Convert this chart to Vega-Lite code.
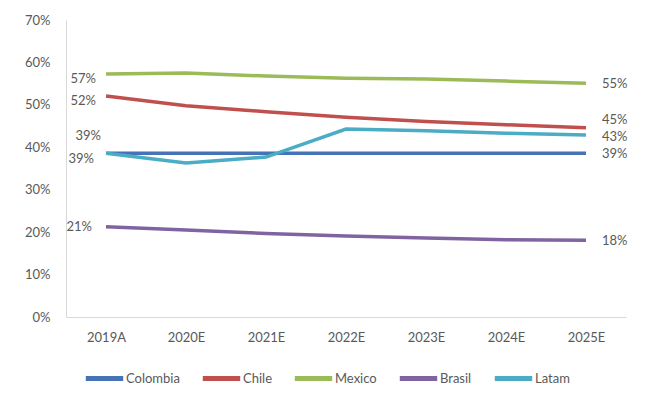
{
  "$schema": "https://vega.github.io/schema/vega-lite/v6.json",
  "width": 560,
  "height": 297,
  "autosize": {"type": "none"},
  "padding": {"left": 66, "top": 20, "right": 20, "bottom": 81},
  "background": "white",
  "config": {
    "font": "Lato",
    "view": {"stroke": null},
    "axis": {
      "grid": false,
      "ticks": false,
      "domainColor": "#d9d9d9",
      "domainWidth": 1,
      "labelColor": "#595959",
      "labelFontSize": 13,
      "title": null
    },
    "text": {"font": "Lato", "fontSize": 13, "color": "#595959", "baseline": "middle"}
  },
  "data": {
    "values": [
      {"series": "Colombia", "year": "2019A", "value": 0.386},
      {"series": "Colombia", "year": "2020E", "value": 0.386},
      {"series": "Colombia", "year": "2021E", "value": 0.386},
      {"series": "Colombia", "year": "2022E", "value": 0.386},
      {"series": "Colombia", "year": "2023E", "value": 0.386},
      {"series": "Colombia", "year": "2024E", "value": 0.386},
      {"series": "Colombia", "year": "2025E", "value": 0.386},
      {"series": "Chile", "year": "2019A", "value": 0.521},
      {"series": "Chile", "year": "2020E", "value": 0.498},
      {"series": "Chile", "year": "2021E", "value": 0.484},
      {"series": "Chile", "year": "2022E", "value": 0.471},
      {"series": "Chile", "year": "2023E", "value": 0.461},
      {"series": "Chile", "year": "2024E", "value": 0.453},
      {"series": "Chile", "year": "2025E", "value": 0.446},
      {"series": "Mexico", "year": "2019A", "value": 0.573},
      {"series": "Mexico", "year": "2020E", "value": 0.575},
      {"series": "Mexico", "year": "2021E", "value": 0.568},
      {"series": "Mexico", "year": "2022E", "value": 0.563},
      {"series": "Mexico", "year": "2023E", "value": 0.561},
      {"series": "Mexico", "year": "2024E", "value": 0.556},
      {"series": "Mexico", "year": "2025E", "value": 0.551},
      {"series": "Brasil", "year": "2019A", "value": 0.213},
      {"series": "Brasil", "year": "2020E", "value": 0.205},
      {"series": "Brasil", "year": "2021E", "value": 0.197},
      {"series": "Brasil", "year": "2022E", "value": 0.191},
      {"series": "Brasil", "year": "2023E", "value": 0.186},
      {"series": "Brasil", "year": "2024E", "value": 0.182},
      {"series": "Brasil", "year": "2025E", "value": 0.181},
      {"series": "Latam", "year": "2019A", "value": 0.386},
      {"series": "Latam", "year": "2020E", "value": 0.363},
      {"series": "Latam", "year": "2021E", "value": 0.377},
      {"series": "Latam", "year": "2022E", "value": 0.443},
      {"series": "Latam", "year": "2023E", "value": 0.439},
      {"series": "Latam", "year": "2024E", "value": 0.433},
      {"series": "Latam", "year": "2025E", "value": 0.429}
    ]
  },
  "encoding": {
    "x": {
      "field": "year",
      "type": "ordinal",
      "sort": null,
      "axis": {"labelAngle": 0, "labelPadding": 14}
    },
    "y": {
      "field": "value",
      "type": "quantitative",
      "scale": {"domain": [0, 0.7], "nice": false},
      "axis": {"format": ".0%", "values": [0, 0.1, 0.2, 0.3, 0.4, 0.5, 0.6, 0.7], "labelPadding": 16}
    }
  },
  "layer": [
    {
      "mark": {"type": "line", "strokeWidth": 3.5},
      "encoding": {
        "color": {
          "field": "series",
          "type": "nominal",
          "scale": {
            "domain": ["Colombia", "Chile", "Mexico", "Brasil", "Latam"],
            "range": ["#4573B5", "#C0504D", "#9BBB59", "#8064A2", "#4BACC6"]
          },
          "legend": {
            "title": null,
            "orient": "none",
            "direction": "horizontal",
            "legendX": 17,
            "legendY": 337,
            "padding": 0,
            "gridAlign": "none",
            "symbolType": "stroke",
            "symbolSize": 1400,
            "symbolStrokeWidth": 5,
            "labelFontSize": 13,
            "labelColor": "#595959",
            "labelOffset": 0,
            "columnPadding": 12
          }
        }
      }
    },
    {
      "transform": [{"filter": "datum.year == '2019A' && (datum.series == 'Mexico' || datum.series == 'Chile')"}],
      "mark": {"type": "text", "align": "right", "dx": -10, "dy": 5},
      "encoding": {"text": {"field": "value", "type": "quantitative", "format": ".0%"}}
    },
    {
      "transform": [{"filter": "datum.year == '2019A' && datum.series == 'Brasil'"}],
      "mark": {"type": "text", "align": "right", "dx": -14, "dy": 0},
      "encoding": {"text": {"field": "value", "type": "quantitative", "format": ".0%"}}
    },
    {
      "transform": [{"filter": "datum.year == '2019A' && datum.series == 'Latam'"}],
      "mark": {"type": "text", "align": "right", "dx": -5, "dy": -17},
      "encoding": {"text": {"field": "value", "type": "quantitative", "format": ".0%"}}
    },
    {
      "transform": [{"filter": "datum.year == '2019A' && datum.series == 'Colombia'"}],
      "mark": {"type": "text", "align": "right", "dx": -12, "dy": 6},
      "encoding": {"text": {"field": "value", "type": "quantitative", "format": ".0%"}}
    },
    {
      "transform": [{"filter": "datum.year == '2025E' && (datum.series == 'Mexico' || datum.series == 'Colombia' || datum.series == 'Brasil')"}],
      "mark": {"type": "text", "align": "left", "dx": 16, "dy": 1},
      "encoding": {"text": {"field": "value", "type": "quantitative", "format": ".0%"}}
    },
    {
      "transform": [{"filter": "datum.year == '2025E' && datum.series == 'Chile'"}],
      "mark": {"type": "text", "align": "left", "dx": 16, "dy": -8},
      "encoding": {"text": {"field": "value", "type": "quantitative", "format": ".0%"}}
    },
    {
      "transform": [{"filter": "datum.year == '2025E' && datum.series == 'Latam'"}],
      "mark": {"type": "text", "align": "left", "dx": 16, "dy": 2},
      "encoding": {"text": {"field": "value", "type": "quantitative", "format": ".0%"}}
    }
  ]
}
